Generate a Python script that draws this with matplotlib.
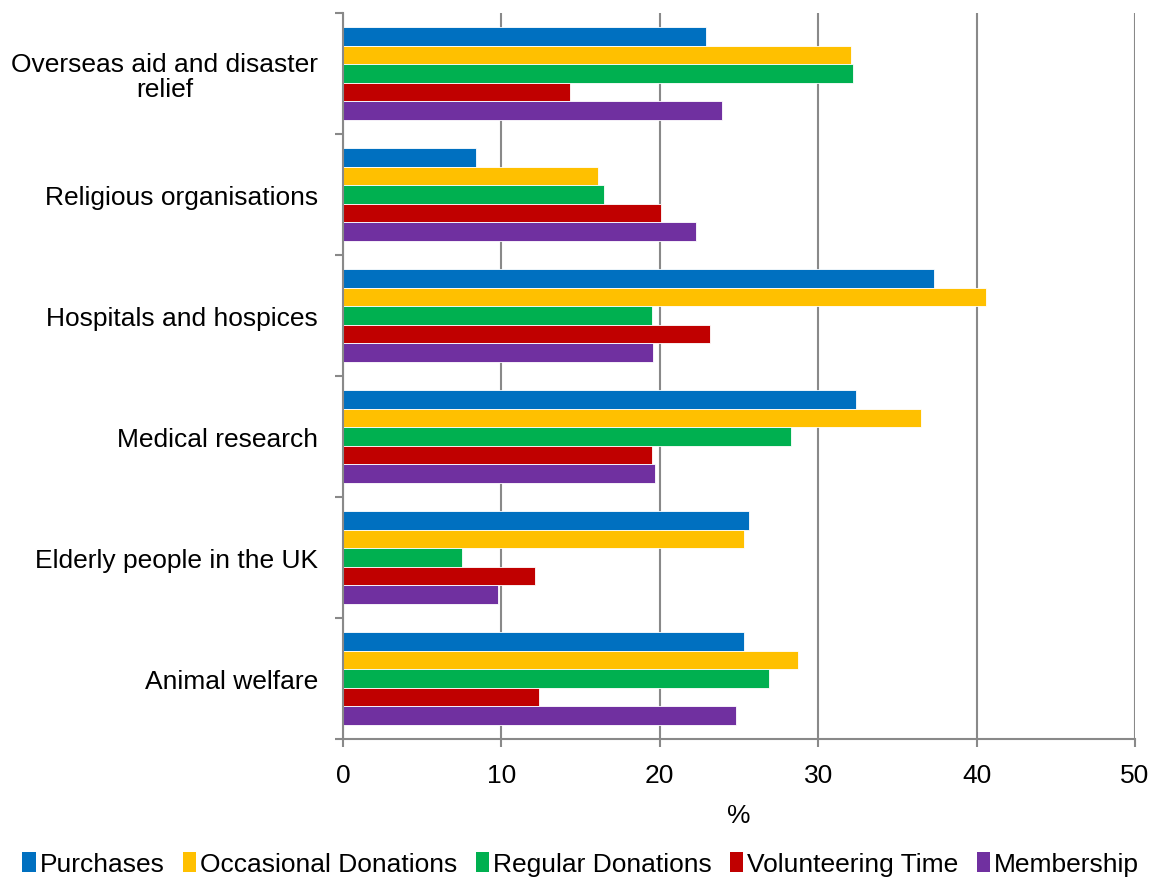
import matplotlib
matplotlib.use("Agg")
import matplotlib.pyplot as plt
import numpy as np
from matplotlib.patches import Patch

categories = ["Overseas aid and disaster\nrelief", "Religious organisations",
              "Hospitals and hospices", "Medical research",
              "Elderly people in the UK", "Animal welfare"]
series_names = ["Purchases", "Occasional Donations", "Regular Donations",
                "Volunteering Time", "Membership"]
purchases = [22.9, 8.4, 37.3, 32.4, 25.6, 25.3]
occasional = [32.1, 16.1, 40.6, 36.5, 25.3, 28.7]
regular = [32.2, 16.5, 19.5, 28.3, 7.5, 26.9]
volunteering = [14.3, 20.1, 23.2, 19.5, 12.1, 12.4]
membership = [23.9, 22.3, 19.6, 19.7, 9.8, 24.8]
x_ticks = [0, 10, 20, 30, 40, 50]

colors = ["#0070C0", "#FFC000", "#00B050", "#C00000", "#7030A0"]
series = [purchases, occasional, regular, volunteering, membership]

plt.rcParams['font.family'] = ['Liberation Sans', 'DejaVu Sans']
FS = 19
fig = plt.figure(figsize=(11.57, 8.78), dpi=100)
ax = fig.add_axes([343/1157, 1-740/878, (1135-343)/1157, (740-14)/878])

n = len(series)
h = 0.153
ypos = np.arange(len(categories))
for i, (vals, c) in enumerate(zip(series, colors)):
    offs = (i - (n-1)/2) * h
    ax.barh(ypos + offs, vals, height=h, color=c, edgecolor='white',
            linewidth=0.6, zorder=3)

ax.set_ylim(len(categories)-0.5, -0.5)
ax.set_xlim(0, 50)
ax.set_xticks(x_ticks)
ax.set_xticklabels([str(v) for v in x_ticks])
ax.set_yticks(ypos)
ax.set_yticklabels(categories)
for lab in ax.get_yticklabels():
    lab.set_multialignment('center')
    lab.set_linespacing(1.05)
ax.set_yticks(np.arange(-0.5, len(categories), 1), minor=True)
ax.tick_params(axis='y', which='major', length=0, pad=18, labelsize=FS)
ax.tick_params(axis='y', which='minor', length=6, width=1.5, color='#898989')
ax.tick_params(axis='x', which='major', length=6, width=1.5, color='#898989',
               labelsize=FS, pad=11)
ax.grid(axis='x', color='#898989', linewidth=1.5, zorder=0)
for s in ['top', 'right']:
    ax.spines[s].set_visible(False)
for s in ['left', 'bottom']:
    ax.spines[s].set_color('#898989')
    ax.spines[s].set_linewidth(1.5)
ax.spines['left'].set_zorder(4)
ax.set_xlabel('%', fontsize=FS, labelpad=12)

handles = [Patch(facecolor=c, edgecolor='none') for c in colors]
fig.legend(handles, series_names, loc='lower center', ncol=5, frameon=False,
           fontsize=FS, handlelength=0.5, handleheight=0.8, handletextpad=0.15,
           columnspacing=0.7, bbox_to_anchor=(0.502, -0.026))

fig.savefig('out.png', dpi=100)
